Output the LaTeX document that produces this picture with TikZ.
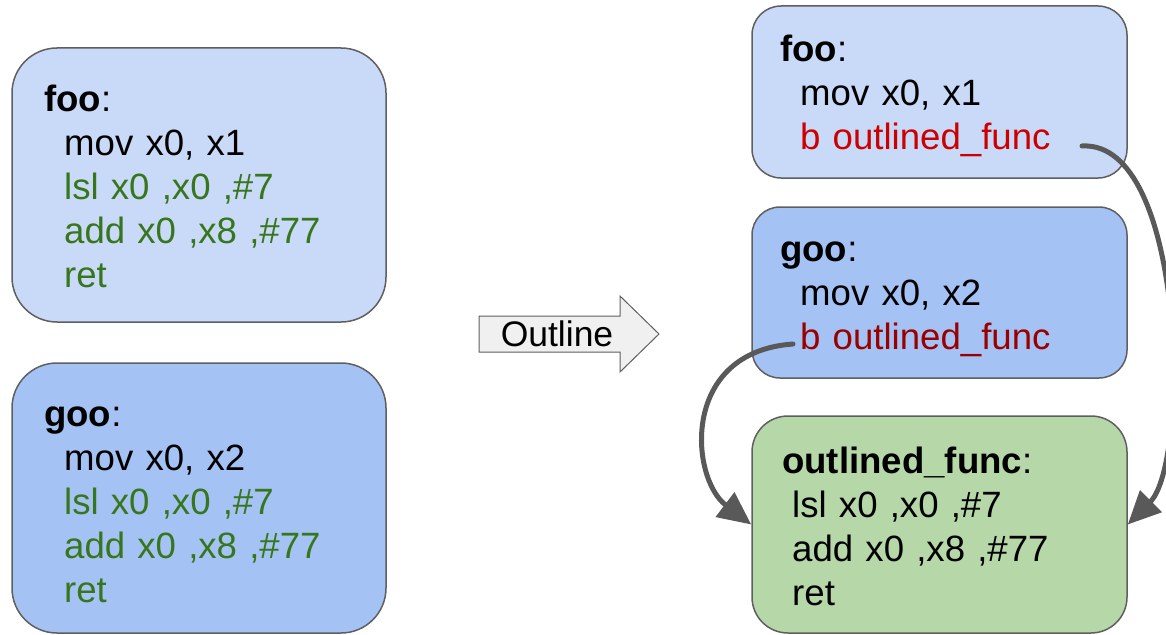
\documentclass[tikz,border=0pt]{standalone}
\usepackage{fontspec}
\setmainfont{Liberation Sans}
\usetikzlibrary{arrows.meta}

\definecolor{lightblue}{HTML}{C9DAF8}
\definecolor{midblue}{HTML}{A4C2F4}
\definecolor{lightgreen}{HTML}{B6D7A8}
\definecolor{asmgreen}{HTML}{38761D}
\definecolor{asmred}{HTML}{CC0000}
\definecolor{darkred}{HTML}{990000}
\definecolor{edgegray}{HTML}{5F5F5F}
\definecolor{jumpgray}{HTML}{595959}

\begin{document}
\begin{tikzpicture}[x=1pt, y=-1pt,
  box/.style={draw=edgegray, line width=1.5pt, inner sep=0pt},
  code/.style={anchor=base west, inner sep=0pt, text width=360pt, align=left,
    font=\fontsize{36.6pt}{44pt}\selectfont},
  jump/.style={draw=jumpgray, line width=5pt, line cap=round,
    -{Triangle[length=33pt,width=30pt]}}]
\useasboundingbox (0,0) rectangle (1166,634);

%% before outlining
\node[box, fill=lightblue, rounded corners=45pt, minimum width=374pt, minimum height=274pt] (lfoo) at (199,185) {};
\node[box, fill=midblue, rounded corners=45pt, minimum width=374pt, minimum height=270pt] (lgoo) at (199,498) {};

\node[code] (lfootxt) at (44,111) {\textbf{foo}:\\
  \hspace*{20pt}mov x0, x1\\
  \hspace*{20pt}\textcolor{asmgreen}{lsl x0 ,x0 ,\#7}\\
  \hspace*{20pt}\textcolor{asmgreen}{add x0 ,x8 ,\#77}\\
  \hspace*{20pt}\textcolor{asmgreen}{ret}};
\node[code] (lgootxt) at (44,426) {\textbf{goo}:\\
  \hspace*{20pt}mov x0, x2\\
  \hspace*{20pt}\textcolor{asmgreen}{lsl x0 ,x0 ,\#7}\\
  \hspace*{20pt}\textcolor{asmgreen}{add x0 ,x8 ,\#77}\\
  \hspace*{20pt}\textcolor{asmgreen}{ret}};

%% fleche
\draw[edgegray, fill=black!6, line width=1pt]
  (479,316) -- (620,316) -- (620,296) -- (659,334) -- (620,372) -- (620,352) -- (479,352) -- cycle;
\node[anchor=base, inner sep=0pt, font=\fontsize{35.5pt}{40pt}\selectfont] (outline) at (557,346) {Outline};

%% after outlining
\node[box, fill=lightblue, rounded corners=29pt, minimum width=375pt, minimum height=172pt] (rfoo) at (939.5,92) {};
\node[box, fill=midblue, rounded corners=28pt, minimum width=375pt, minimum height=171pt] (rgoo) at (939.5,292.5) {};
\node[box, fill=lightgreen, rounded corners=36pt, minimum width=375pt, minimum height=217pt] (outl) at (939.5,524.5) {};

\node[code] (rfootxt) at (780,61) {\textbf{foo}:\\
  \hspace*{20pt}mov x0, x1\\
  \hspace*{20pt}\textcolor{asmred}{b outlined\_func}};
\node[code] (rgootxt) at (780,261) {\textbf{goo}:\\
  \hspace*{20pt}mov x0, x2\\
  \hspace*{20pt}\textcolor{darkred}{b outlined\_func}};
\node[code] (outltxt) at (782,473) {\textbf{outlined\_func}:\\
  \hspace*{10pt}lsl x0 ,x0 ,\#7\\
  \hspace*{10pt}add x0 ,x8 ,\#77\\
  \hspace*{10pt}ret};

%% sauts
\coordinate (call1) at (1082,146);
\coordinate (call2) at (793,344);
\draw[jump] (call1) .. controls (1186,140) and (1190,462) .. (outl.east);
\draw[jump] (call2) .. controls (680,352) and (690,478) .. (outl.west);

\end{tikzpicture}
\end{document}
